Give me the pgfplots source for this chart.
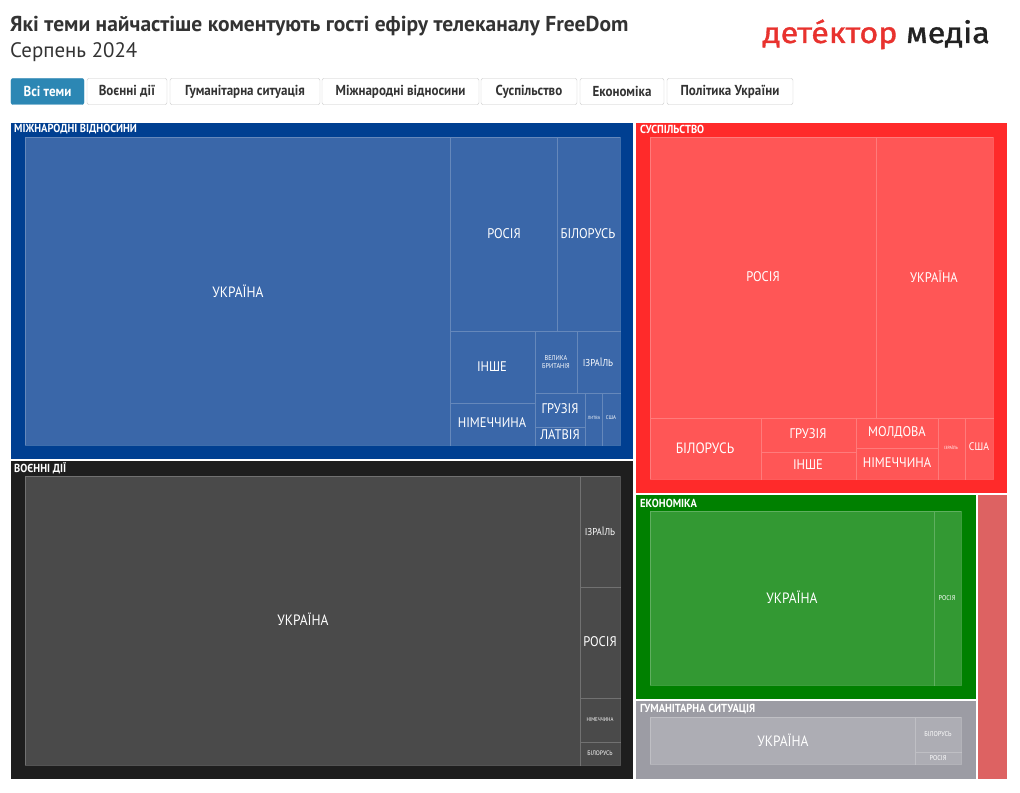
\documentclass[border=0pt]{standalone}
\usepackage{pgfplots}
\pgfplotsset{compat=1.18}
\usepackage{fontspec}
\setmainfont{PT Sans}[FakeStretch=0.9]
\newfontfamily\titlefont{PT Sans}
\newfontfamily\logofont{Fira Sans}[FakeStretch=1.1, FakeBold=1.2]
\newcommand\fs[1]{\fontsize{#1}{#1}\selectfont}
\definecolor{blueO}{HTML}{003F91}
\definecolor{blueI}{HTML}{3A67A9}
\definecolor{darkO}{HTML}{1E1E1E}
\definecolor{darkI}{HTML}{4A4A4A}
\definecolor{redO}{HTML}{FF2A2A}
\definecolor{redI}{HTML}{FF5656}
\definecolor{greenO}{HTML}{008000}
\definecolor{greenI}{HTML}{339933}
\definecolor{grayO}{HTML}{9C9CA4}
\definecolor{grayI}{HTML}{ADADB4}
\definecolor{polit}{HTML}{DD6262}
\definecolor{btnblue}{HTML}{2C87B4}
\definecolor{logored}{HTML}{E8322E}
\definecolor{logodark}{HTML}{222222}
\definecolor{titlec}{HTML}{333333}
% outer group rectangle
\newcommand{\grp}[5]{\addplot[mark=none, fill=#1, draw=white, line width=1.2bp] coordinates {(#2,#3) (#4,#3) (#4,#5) (#2,#5) (#2,#3)};}
% leaf rectangle
\newcommand{\leaf}[5]{\addplot[mark=none, fill=#1, draw=white, draw opacity=0.22, line width=0.8bp] coordinates {(#2,#3) (#4,#3) (#4,#5) (#2,#5) (#2,#3)};}
\newcommand{\lab}[4]{\node[text=white, font=\fs{#1}, align=center, inner sep=0pt] at (axis cs:#2,#3) {#4};}
\newcommand{\hdr}[3]{\node[text=white, font=\bfseries\fs{11.7}, anchor=west, inner sep=0pt] at (axis cs:#1,#2) {#3};}
\newcommand{\btn}[3]{\node[draw=black!22, rounded corners=2bp, fill=white, text=titlec, font=\bfseries\fs{14.5}, minimum height=26bp, minimum width=#2bp, inner sep=0pt] at (axis cs:#1,91.5) {#3};}
\begin{document}
\begin{tikzpicture}
\begin{axis}[scale only axis, width=1020bp, height=792bp,
  xmin=0, xmax=1020, ymin=0, ymax=792, y dir=reverse,
  hide axis, clip=false]
% groups
\grp{blueO}{10}{122}{634}{460}
\grp{darkO}{10}{460}{634}{780}
\grp{redO}{635}{122}{1008}{494}
\grp{greenO}{635}{494}{977}{700}
\grp{grayO}{635}{700}{977}{780}
\grp{polit}{977}{494}{1008}{780}
% international relations
\leaf{blueI}{25}{137}{450}{445}
\leaf{blueI}{450}{137}{557}{331}
\leaf{blueI}{557}{137}{620}{331}
\leaf{blueI}{450}{331}{535}{403}
\leaf{blueI}{450}{403}{535}{445}
\leaf{blueI}{535}{331}{577}{393}
\leaf{blueI}{577}{331}{620}{393}
\leaf{blueI}{535}{393}{585}{427}
\leaf{blueI}{535}{427}{585}{445}
\leaf{blueI}{585}{393}{602}{445}
\leaf{blueI}{602}{393}{620}{445}
% military
\leaf{darkI}{25}{476}{580}{765}
\leaf{darkI}{580}{476}{620}{587}
\leaf{darkI}{580}{587}{620}{698}
\leaf{darkI}{580}{698}{620}{742}
\leaf{darkI}{580}{742}{620}{765}
% society
\leaf{redI}{650}{137}{876}{418}
\leaf{redI}{876}{137}{993}{418}
\leaf{redI}{650}{418}{761}{479}
\leaf{redI}{761}{418}{856}{452}
\leaf{redI}{761}{452}{856}{479}
\leaf{redI}{856}{418}{938}{448}
\leaf{redI}{856}{448}{938}{479}
\leaf{redI}{938}{418}{965}{479}
\leaf{redI}{965}{418}{993}{479}
% economy
\leaf{greenI}{650}{511}{934}{685}
\leaf{greenI}{934}{511}{961}{685}
% humanitarian
\leaf{grayI}{650}{717}{915}{764}
\leaf{grayI}{915}{717}{961}{752}
\leaf{grayI}{915}{752}{961}{764}
% group headers
\hdr{14}{129.5}{МІЖНАРОДНІ ВІДНОСИНИ}
\hdr{14}{468.5}{ВОЄННІ ДІЇ}
\hdr{640}{129.5}{СУСПІЛЬСТВО}
\hdr{640}{503.5}{ЕКОНОМІКА}
\hdr{640}{709.5}{ГУМАНІТАРНА СИТУАЦІЯ}
% leaf labels
\lab{15}{238}{291}{УКРАЇНА}
\lab{14}{504}{234}{РОСІЯ}
\lab{14}{588}{234}{БІЛОРУСЬ}
\lab{14}{492}{367}{ІНШЕ}
\lab{14}{492}{423}{НІМЕЧЧИНА}
\lab{7}{556}{362}{ВЕЛИКА\\[1bp]БРИТАНІЯ}
\lab{10}{598}{362}{ІЗРАЇЛЬ}
\lab{14}{560}{409}{ГРУЗІЯ}
\lab{14}{560}{435}{ЛАТВІЯ}
\lab{4.5}{594}{418}{ЛИТВА}
\lab{5.5}{611}{418}{США}
\lab{15}{303}{619}{УКРАЇНА}
\lab{10}{600}{531}{ІЗРАЇЛЬ}
\lab{14}{600}{642}{РОСІЯ}
\lab{5.5}{600}{720}{НІМЕЧЧИНА}
\lab{6.5}{600}{753}{БІЛОРУСЬ}
\lab{14}{763}{277}{РОСІЯ}
\lab{14}{934}{277}{УКРАЇНА}
\lab{15}{705}{448}{БІЛОРУСЬ}
\lab{14}{808}{434}{ГРУЗІЯ}
\lab{14}{808}{465}{ІНШЕ}
\lab{14}{897}{432}{МОЛДОВА}
\lab{14}{897}{463}{НІМЕЧЧИНА}
\lab{4.5}{951}{448}{ІЗРАЇЛЬ}
\lab{11}{979}{447}{США}
\lab{15}{792}{597}{УКРАЇНА}
\lab{7}{947}{598}{РОСІЯ}
\lab{15}{783}{740}{УКРАЇНА}
\lab{7}{938}{734}{БІЛОРУСЬ}
\lab{7}{938}{758}{РОСІЯ}
% title
\node[anchor=base west, inner sep=0pt, text=titlec, font=\titlefont\bfseries\fs{21.6}] at (axis cs:10,32) {Які теми найчастіше коментують гості ефіру телеканалу FreeDom};
\node[anchor=base west, inner sep=0pt, text=titlec, font=\titlefont\fs{21}] at (axis cs:10,58) {Серпень 2024};
% logo
\node[anchor=base east, inner sep=0pt, font=\logofont\fs{29.5}] at (axis cs:990,43) {\textcolor{logored}{детéктор} \textcolor{logodark}{медіа}};
% buttons
\node[draw=btnblue, rounded corners=2bp, fill=btnblue, text=white, font=\bfseries\fs{14.5}, minimum height=26bp, minimum width=73bp, inner sep=0pt] at (axis cs:47.5,91.5) {Всі теми};
\btn{127}{80}{Воєнні дії}
\btn{245}{150}{Гуманітарна ситуація}
\btn{400.5}{157}{Міжнародні відносини}
\btn{529}{96}{Суспільство}
\btn{622}{84}{Економіка}
\btn{730}{126}{Політика України}
\end{axis}
\pgfresetboundingbox
\path (current axis.south west) rectangle (current axis.north east);
\end{tikzpicture}
\end{document}
